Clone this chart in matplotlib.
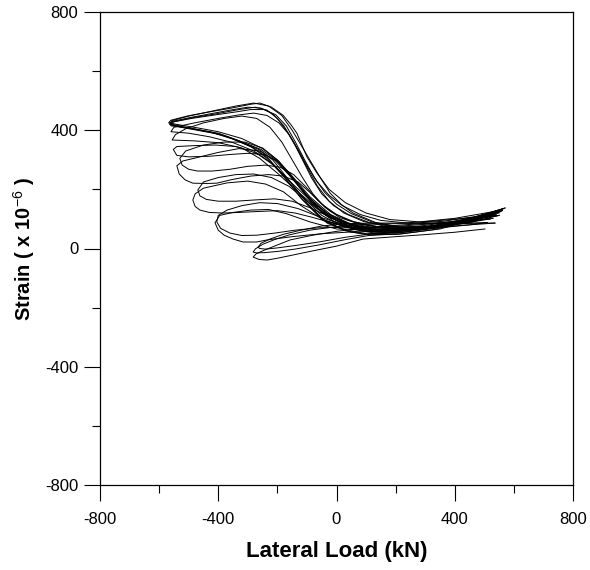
import matplotlib
matplotlib.use("Agg")
import matplotlib.pyplot as plt
from matplotlib.ticker import MultipleLocator

plt.rcParams['font.family'] = ['Liberation Sans', 'DejaVu Sans']
plt.rcParams['axes.unicode_minus'] = False
plt.rcParams['mathtext.fontset'] = 'custom'
plt.rcParams['mathtext.rm'] = 'Liberation Sans'
plt.rcParams['mathtext.it'] = 'Liberation Sans'
plt.rcParams['mathtext.bf'] = 'Liberation Sans:bold'

# load (kN) / strain (x10^-6), one loop per cycle
load_c1 = [502, 400, 300, 200, 90, 0, -90, -147, -200, -235, -262, -282, -272, -245, -200, -157, -80, 0, 100, 200, 300, 420, 520]
strain_c1 = [66, 55, 47, 40, 32, 8, -10, -22, -33, -39, -37, -29, -18, -6, 12, 29, 45, 58, 70, 78, 85, 92, 100]

load_c2 = [520, 420, 320, 220, 120, 30, -60, -140, -200, -245, -270, -282, -274, -250, -210, -160, -90, 0, 100, 200, 300, 420, 536]
strain_c2 = [100, 84, 70, 58, 46, 30, 12, -2, -10, -14, -15, -12, -1, 14, 30, 46, 62, 74, 82, 84, 84, 86, 86]

load_c3 = [536, 420, 320, 220, 120, 30, -60, -140, -200, -240, -260, -265, -255, -225, -180, -120, -50, 30, 120, 220, 320, 430, 540]
strain_c3 = [86, 78, 70, 60, 50, 38, 22, 10, 2, -2, 0, 5, 18, 32, 48, 62, 76, 84, 86, 86, 92, 102, 112]

load_c4 = [540, 420, 300, 200, 100, 0, -90, -170, -230, -290, -350, -395, -411, -400, -380, -350, -316, -270, -235, -150, -50, 50, 150, 250, 350, 450, 510]
strain_c4 = [112, 95, 78, 68, 64, 66, 90, 118, 132, 130, 122, 112, 87, 62, 45, 32, 22, 22, 29, 40, 50, 56, 58, 62, 70, 80, 88]

load_c4b = [510, 430, 320, 220, 120, 30, -50, -130, -200, -260, -320, -370, -400, -405, -392, -360, -320, -270, -210, -140, -60, 30, 120, 220, 330, 440, 520]
strain_c4b = [88, 84, 76, 70, 70, 80, 104, 135, 152, 155, 145, 130, 112, 90, 68, 52, 44, 45, 52, 62, 70, 72, 72, 76, 84, 96, 108]

load_c5 = [530, 420, 320, 220, 120, 30, -50, -120, -180, -240, -300, -370, -450, -478, -486, -478, -462, -430, -384, -330, -270, -200, -140, -80, -20, 50, 150, 250, 350, 450, 550]
strain_c5 = [102, 88, 72, 62, 60, 72, 100, 145, 192, 218, 228, 222, 204, 185, 164, 142, 130, 122, 120, 122, 125, 128, 120, 105, 88, 72, 62, 62, 72, 88, 112]

load_c5b = [550, 440, 330, 230, 130, 40, -30, -100, -160, -220, -280, -340, -400, -450, -469, -462, -440, -400, -340, -280, -210, -150, -90, -30, 40, 130, 230, 340, 440, 540]
strain_c5b = [112, 94, 76, 66, 64, 78, 108, 160, 210, 240, 252, 250, 240, 225, 198, 178, 166, 160, 160, 164, 168, 160, 138, 110, 86, 70, 66, 76, 92, 115]

load_c6 = [550, 430, 320, 220, 120, 40, -30, -100, -160, -210, -260, -330, -400, -470, -520, -540, -532, -512, -486, -440, -405, -350, -290, -230, -180, -130, -90, -50, 0, 60, 150, 250, 350, 450, 555]
strain_c6 = [112, 92, 72, 62, 64, 84, 118, 178, 248, 300, 330, 338, 325, 308, 296, 280, 252, 232, 221, 220, 221, 234, 245, 250, 245, 225, 190, 150, 115, 90, 72, 66, 74, 92, 125]

load_c6b = [555, 440, 330, 230, 130, 50, -20, -90, -150, -200, -250, -310, -380, -450, -510, -530, -522, -500, -470, -420, -360, -300, -240, -190, -145, -105, -65, -20, 40, 120, 220, 330, 440, 550]
strain_c6b = [125, 98, 76, 64, 64, 82, 115, 175, 245, 300, 340, 360, 360, 350, 330, 305, 282, 268, 262, 262, 268, 278, 282, 275, 250, 210, 165, 125, 95, 76, 66, 72, 90, 120]

load_c7 = [555, 450, 340, 240, 140, 60, 0, -70, -140, -200, -260, -320, -400, -480, -556, -545, -510, -450, -380, -320, -270, -225, -185, -150, -115, -80, -40, 10, 80, 170, 270, 380, 480, 560]
strain_c7 = [125, 103, 80, 62, 58, 70, 95, 140, 200, 255, 305, 340, 358, 364, 367, 385, 405, 425, 440, 448, 440, 410, 360, 300, 240, 185, 140, 105, 82, 68, 66, 80, 100, 128]

load_c7b = [560, 450, 340, 240, 140, 60, -10, -80, -150, -210, -270, -340, -410, -480, -540, -552, -540, -500, -430, -360, -300, -245, -200, -160, -125, -90, -50, 0, 60, 140, 240, 350, 460, 555]
strain_c7b = [128, 102, 78, 62, 60, 75, 105, 155, 220, 280, 322, 345, 350, 348, 345, 335, 315, 310, 312, 318, 322, 318, 295, 255, 210, 165, 125, 95, 78, 66, 64, 76, 98, 126]

load_c8 = [560, 470, 350, 220, 120, 46, -32, -100, -160, -215, -259, -330, -400, -462, -520, -563,
           -558, -500, -420, -340, -280, -230, -185, -150, -120, -90, -55, -22, 15, 56, 137, 220, 320, 430, 565]
strain_c8 = [128, 100, 66, 50, 45, 56, 86, 154, 230, 299, 333, 365, 390, 401, 412, 422,
             432, 448, 465, 482, 492, 482, 450, 400, 350, 299, 240, 188, 150, 120, 86, 70, 72, 95, 135]

load_c9 = [565, 460, 340, 220, 130, 60, -10, -80, -140, -195, -250, -320, -400, -470, -530, -568,
           -560, -505, -430, -350, -290, -259, -220, -181, -155, -134, -115, -100, -66, -25, 30, 100, 180, 280, 400, 550]
strain_c9 = [135, 102, 70, 54, 52, 64, 92, 150, 225, 295, 338, 372, 395, 408, 418, 425,
             434, 448, 462, 476, 488, 492, 478, 451, 420, 390, 345, 310, 255, 200, 155, 120, 98, 90, 102, 128]

load_c10 = [550, 450, 330, 210, 110, 30, -45, -115, -175, -230, -280, -350, -420, -490, -560,
            -552, -490, -410, -330, -275, -235, -200, -165, -135, -100, -65, -25, 25, 90, 170, 270, 380, 480, 570]
strain_c10 = [126, 98, 64, 48, 46, 60, 95, 165, 240, 305, 340, 370, 392, 405, 415,
              428, 442, 455, 470, 478, 468, 440, 392, 340, 275, 212, 160, 120, 92, 74, 70, 84, 104, 137]

load_c11 = [570, 460, 340, 230, 130, 50, -20, -90, -150, -205, -255, -320, -390, -460, -525, -565,
            -556, -500, -430, -360, -300, -255, -215, -178, -145, -115, -85, -50, -10, 40, 110, 200, 300, 410, 520]
strain_c11 = [137, 104, 72, 56, 55, 70, 104, 170, 240, 300, 335, 360, 385, 398, 410, 420,
              430, 442, 455, 468, 478, 475, 455, 415, 360, 300, 240, 185, 145, 115, 88, 72, 70, 88, 112]

load_c12 = [520, 420, 310, 200, 100, 20, -50, -120, -180, -235, -290, -360, -430, -500, -562,
            -555, -490, -410, -340, -290, -245, -205, -170, -140, -108, -75, -40, 0, 50, 120, 210, 310, 420, 530]
strain_c12 = [112, 88, 66, 52, 50, 66, 100, 170, 245, 305, 345, 375, 395, 408, 418,
              428, 440, 452, 462, 470, 470, 452, 415, 362, 300, 240, 190, 150, 118, 90, 74, 74, 94, 118]

load_c13 = [530, 420, 300, 190, 100, 20, -50, -115, -170, -220, -280, -350, -430, -500, -560,
            -550, -480, -400, -330, -280, -235, -195, -160, -130, -100, -65, -25, 20, 80, 150, 250, 360, 470, 560]
strain_c13 = [118, 92, 68, 56, 58, 75, 112, 175, 240, 290, 330, 358, 378, 390, 395,
              410, 425, 440, 452, 458, 450, 425, 385, 335, 280, 225, 180, 145, 115, 95, 85, 92, 108, 130]

cycles = [
    (load_c1, strain_c1), (load_c2, strain_c2), (load_c3, strain_c3),
    (load_c4, strain_c4), (load_c4b, strain_c4b), (load_c5, strain_c5),
    (load_c5b, strain_c5b), (load_c6, strain_c6), (load_c6b, strain_c6b),
    (load_c7, strain_c7), (load_c7b, strain_c7b), (load_c8, strain_c8),
    (load_c9, strain_c9), (load_c10, strain_c10), (load_c11, strain_c11),
    (load_c12, strain_c12), (load_c13, strain_c13),
]

fig = plt.figure(figsize=(5.9, 5.7), dpi=100)
ax = fig.add_axes([100/590, 85/570, 473/590, 473/570])

for load, strain in cycles:
    ax.plot(load, strain, color='black', lw=0.7)

ax.set_xlim(-800, 800)
ax.set_ylim(-800, 800)
ax.xaxis.set_major_locator(MultipleLocator(400))
ax.xaxis.set_minor_locator(MultipleLocator(200))
ax.yaxis.set_major_locator(MultipleLocator(400))
ax.yaxis.set_minor_locator(MultipleLocator(200))
ax.tick_params(which='major', direction='out', length=11.5, width=0.8, labelsize=12)
ax.tick_params(which='minor', direction='out', length=5.8, width=0.8)
ax.tick_params(axis='x', which='major', pad=8)
ax.tick_params(axis='y', which='major', pad=4)
for s in ax.spines.values():
    s.set_linewidth(0.9)

ax.set_xlabel('Lateral Load (kN)', fontsize=16, fontweight='bold', labelpad=10)
ax.set_ylabel(r'Strain ( x 10$^{\mathrm{-6}}$ )', fontsize=14.5, fontweight='bold', labelpad=6)

fig.savefig('out.png', dpi=100)
